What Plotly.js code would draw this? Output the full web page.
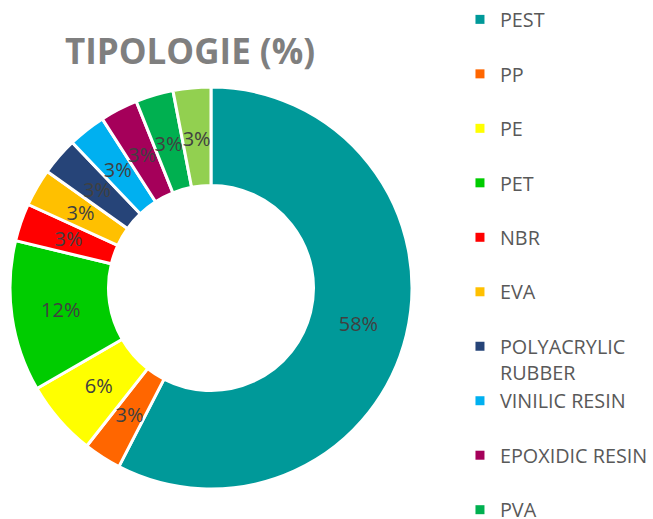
<!DOCTYPE html>
<html>
<head>
<meta charset="utf-8">
<script src="https://cdn.plot.ly/plotly-3.0.1.min.js"></script>
<style>html,body{margin:0;padding:0;background:#fff;}#chart{width:653px;height:519px;}</style>
</head>
<body>
<div id="chart"></div>
<script>
// Data (counts of items per typology; percentages computed by Plotly)
var labels = ['PEST', 'PP', 'PE', 'PET', 'NBR', 'EVA', 'POLYACRYLIC RUBBER', 'VINILIC RESIN', 'EPOXIDIC RESIN', 'PVA', 'OTHER'];
var counts = [19, 1, 2, 4, 1, 1, 1, 1, 1, 1, 1];
var colors = ['#009999', '#FF6600', '#FFFF00', '#00CC00', '#FF0000', '#FFC000', '#264478', '#00B0F0', '#A5005A', '#00B050', '#92D050'];
// Legend text as it wraps in the reference (last entry falls below the visible area)
var legendLabels = ['PEST', 'PP', 'PE', 'PET', 'NBR', 'EVA', 'POLYACRYLIC<br>RUBBER', 'VINILIC RESIN', 'EPOXIDIC RESIN', 'PVA'];
var titleText = 'TIPOLOGIE (%)';

var total = counts.reduce(function (a, b) { return a + b; }, 0);
var pctTpl = '%{percent:.0%}';
var BIG_SHARE = 0.10; // large slices are labelled by the main ring, small ones by the label ring
var bigTpl = counts.map(function (c) { return c / total >= BIG_SHARE ? pctTpl : ''; });
var smallTpl = counts.map(function (c) { return c / total < BIG_SHARE ? pctTpl : ''; });

var textFont = {family: 'Open Sans', size: 20, color: '#404040'};

var common = {
  type: 'pie',
  labels: labels,
  values: counts,
  sort: false,
  direction: 'clockwise',
  rotation: 0,
  showlegend: false,
  textposition: 'inside',
  insidetextorientation: 'horizontal',
  textfont: textFont
};

// Coloured ring
var ring = Object.assign({}, common, {
  hole: 0.51,
  marker: {colors: colors, line: {color: '#ffffff', width: 3}},
  texttemplate: bigTpl,
  domain: {x: [0.0153, 0.6309], y: [0.0578, 0.8324]},
  hoverinfo: 'label+percent'
});

// Same data, transparent, narrower ring: carries the small-slice labels at mid-ring
var labelRing = Object.assign({}, common, {
  hole: 0.80,
  marker: {colors: labels.map(function () { return 'rgba(0,0,0,0)'; }), line: {width: 0}},
  texttemplate: smallTpl,
  domain: {x: [0.0704, 0.5758], y: [0.1272, 0.7630]},
  hoverinfo: 'skip'
});

var traces = [ring, labelRing];

legendLabels.forEach(function (name, i) {
  var isLast = i === legendLabels.length - 1;
  var txt = (name.indexOf('<br>') >= 0 || isLast) ? name : name + '<br>\u00a0';
  traces.push({
    type: 'scatter',
    mode: 'markers',
    x: [null], y: [null],
    name: txt,
    marker: {symbol: 'square', size: 9, color: colors[i]},
    hoverinfo: 'skip'
  });
});

var layout = {
  width: 653, height: 519,
  margin: {l: 0, r: 0, t: 0, b: 0},
  paper_bgcolor: '#ffffff',
  plot_bgcolor: 'rgba(0,0,0,0)',
  title: {
    text: '<b>' + titleText + '</b>',
    font: {family: 'Open Sans', size: 35, color: '#7F7F7F'},
    x: 0.291, xref: 'paper', xanchor: 'center',
    y: 0.90, yref: 'container', yanchor: 'middle'
  },
  xaxis: {visible: false},
  yaxis: {visible: false},
  uniformtext: {minsize: 20, mode: 'show'},
  showlegend: true,
  legend: {
    x: 0.7044, xanchor: 'left', y: 1, yanchor: 'top',
    font: {family: 'Open Sans', size: 19.8, color: '#595959'},
    valign: 'top', itemwidth: 30, tracegroupgap: 0,
    bgcolor: 'rgba(0,0,0,0)', itemclick: false, itemdoubleclick: false
  }
};

Plotly.newPlot('chart', traces, layout, {displayModeBar: false, staticPlot: true});
</script>
</body>
</html>
